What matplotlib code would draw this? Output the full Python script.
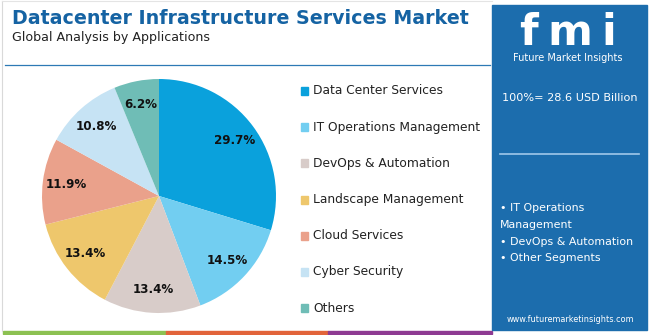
import matplotlib
matplotlib.use("Agg")
import numpy as np
import matplotlib.pyplot as plt
from matplotlib.patches import Rectangle
from matplotlib.lines import Line2D

## DATA
categories = ["Data Center Services", "IT Operations Management", "DevOps & Automation",
              "Landscape Management", "Cloud Services", "Cyber Security", "Others"]
shares = [29.7, 14.5, 13.4, 13.4, 11.9, 10.8, 6.2]
colors = ["#0aa1dc", "#72cef1", "#d8ccc9", "#eec76c", "#eaa18b", "#c6e3f4", "#6fbdb6"]
share_labels = ["29.7%", "14.5%", "13.4%", "13.4%", "11.9%", "10.8%", "6.2%"]

title = "Datacenter Infrastructure Services Market"
subtitle = "Global Analysis by Applications"
total_text = "100%= 28.6 USD Billion"
bullets = ["\u2022 IT Operations", "Management", "\u2022 DevOps & Automation", "\u2022 Other Segments"]

W, H = 650, 335

def fx(x):
    return x / W

def fy(y):
    return 1 - y / H

## FIGURE
fig = plt.figure(figsize=(6.5, 3.35), dpi=100)
fig.patch.set_facecolor("white")

# thin frame on left/top
fig.add_artist(Line2D([fx(2), fx(2)], [fy(1), fy(331)], color="#d9d9d9", lw=0.8))
fig.add_artist(Line2D([fx(2), fx(492)], [fy(1), fy(1)], color="#e4e4e4", lw=0.8))

# title block
fig.text(fx(12), fy(19), title, fontsize=13.7, fontweight="bold", color="#1563a3",
         va="center", ha="left")
fig.text(fx(12), fy(38), subtitle, fontsize=9.1, color="#222222", va="center", ha="left")
fig.add_artist(Line2D([fx(5), fx(490)], [fy(65), fy(65)], color="#2d79b5", lw=0.9))

# pie
cx, cy, r = 159, 196, 117
ax = fig.add_axes([fx(cx - r), fy(cy + r), (2 * r) / W, (2 * r) / H])
wedges, _ = ax.pie(shares, colors=colors, startangle=90, counterclock=False,
                   wedgeprops=dict(linewidth=0))
ax.set_xlim(-1, 1)
ax.set_ylim(-1, 1)
ax.set_aspect("equal")
ax.axis("off")
for w, lab in zip(wedges, share_labels):
    ang = np.deg2rad((w.theta1 + w.theta2) / 2)
    d = 0.8
    ax.text(d * np.cos(ang), d * np.sin(ang), lab, ha="center", va="center",
            fontsize=8.6, fontweight="heavy", color="#111111")

# legend
y0, dy = 91, 36.2
for i, (cat, c) in enumerate(zip(categories, colors)):
    yy = y0 + i * dy
    fig.add_artist(Rectangle((fx(301), fy(yy + 4)), 7 / W, 8 / H, color=c,
                             transform=fig.transFigure))
    fig.text(fx(313), fy(yy), cat, fontsize=8.8, color="#222222", va="center", ha="left")

# bottom colour strip
for x0, x1, c in [(3, 166, "#8cc152"), (166, 328, "#e2643a"), (328, 492, "#8e3a92")]:
    fig.add_artist(Rectangle((fx(x0), fy(334)), (x1 - x0) / W, 3 / H, color=c,
                             transform=fig.transFigure))

# right panel
fig.add_artist(Rectangle((fx(492), fy(330)), 155 / W, 325 / H, color="#1c6dad",
                         transform=fig.transFigure))
# logo letters, spread out like the wide fmi mark
for ch, xc in [("f", 529), ("m", 570), ("i", 609)]:
    fig.text(fx(xc), fy(45), ch, fontsize=31, fontweight="bold", color="white",
             ha="center", va="baseline")
fig.text(fx(568), fy(58), "Future Market Insights", fontsize=7.0, color="white",
         ha="center", va="center")
fig.text(fx(502), fy(98), total_text, fontsize=8.1, color="white", ha="left", va="center")
fig.add_artist(Line2D([fx(500), fx(639)], [fy(154), fy(154)], color="#9fc8ea", lw=1.2))
for i, b in enumerate(bullets):
    fig.text(fx(500), fy(208 + i * 16.8), b, fontsize=7.9, color="white",
             ha="left", va="center")
fig.text(fx(570), fy(320), "www.futuremarketinsights.com", fontsize=5.9, color="white",
         ha="center", va="center")

fig.savefig("out.png", dpi=100)
